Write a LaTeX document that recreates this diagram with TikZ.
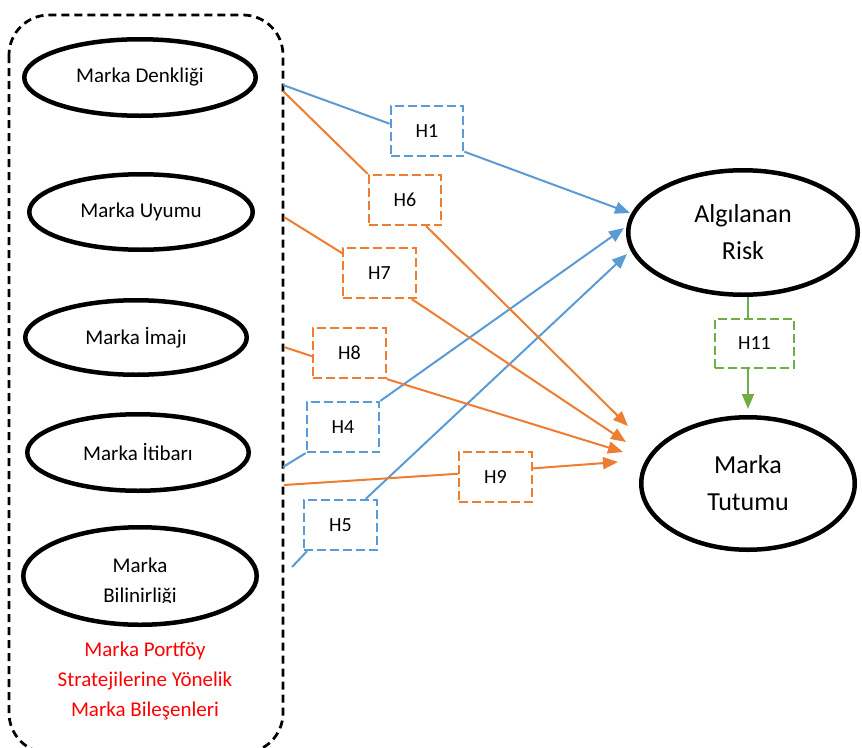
\documentclass[tikz,border=0pt]{standalone}
\usepackage{fontspec}
\setmainfont{Carlito}
\usetikzlibrary{arrows.meta,shapes.geometric}
\definecolor{hblue}{HTML}{5B9BD5}
\definecolor{horange}{HTML}{ED7D31}
\definecolor{hgreen}{HTML}{70AD47}
\definecolor{hred}{HTML}{FF0000}

\begin{document}
\begin{tikzpicture}[x=1pt,y=-1pt,
  construct/.style={draw=black, line width=4.5pt, ellipse, inner sep=0pt,
    font=\fontsize{21}{30}\selectfont, align=center},
  outcome/.style={construct, font=\fontsize{26}{37}\selectfont},
  hyp/.style={draw, fill=white, dash pattern=on 9pt off 4pt, line width=2.2pt,
    minimum width=72.5pt, minimum height=50pt, inner sep=0pt,
    font=\fontsize{20}{24}\selectfont},
  link/.style={line width=2pt},
  tip/.style={-{Triangle[length=15pt,width=12pt]}},
  frame/.style={draw=black, line width=2.75pt, dash pattern=on 8pt off 5pt,
    rounded corners=40pt}
]
\useasboundingbox (0,0) rectangle (862,747);

% dashed frame around the brand components
\draw[frame] (9,15) rectangle (283,753);

% brand component constructs
\node[construct, minimum width=231.5pt, minimum height=76.5pt] (denk) at (140,77.5) {Marka Denkliği};
\node[construct, minimum width=223.5pt, minimum height=75.5pt] (uyum) at (141,212) {Marka Uyumu};
\node[construct, minimum width=221.5pt, minimum height=74.5pt] (imaj) at (136,337.5) {Marka İmajı};
\node[construct, minimum width=221.5pt, minimum height=76.5pt] (itib) at (138,452.5) {Marka İtibarı};
\node[construct, minimum width=233.5pt, minimum height=97.5pt] (bil) at (140,576) {};
\begin{scope}
  \clip (0,0) rectangle (862,602);
  \node[font=\fontsize{21}{30}\selectfont, align=center, inner sep=0pt] (biltext) at (140,582) {Marka\\Bilinirliği};
\end{scope}

% group caption
\node[font=\fontsize{21}{30}\selectfont, align=center, text=hred, inner sep=0pt] (caption) at (145,681)
  {Marka Portföy\\Stratejilerine Yönelik\\Marka Bileşenleri};

% outcome constructs
\node[outcome, minimum width=229.5pt, minimum height=124.5pt] (risk) at (743,232.5) {Algılanan\\Risk};
\node[outcome, minimum width=213.5pt, minimum height=132.5pt] (tut) at (748,483.5) {Marka\\Tutumu};

% hypothesis boxes
\node[hyp, draw=hblue] (h1) at (427,131) {H1};
\node[hyp, draw=horange] (h6) at (405,200) {H6};
\node[hyp, draw=horange] (h7) at (379.5,273) {H7};
\node[hyp, draw=horange] (h8) at (349.5,353) {H8};
\node[hyp, draw=hblue] (h4) at (343,427) {H4};
\node[hyp, draw=horange] (h9) at (495.5,477) {H9};
\node[hyp, draw=hblue] (h5) at (340.5,525) {H5};
\node[hyp, draw=hgreen, minimum width=79pt, minimum height=49pt] (h11) at (754.5,343.5) {H11};

% connector ends on the frame edge
\coordinate (s1) at (283,85);
\coordinate (s6) at (283,91);
\coordinate (s7) at (284,217);
\coordinate (s8) at (284,347);
\coordinate (s4) at (283,467);
\coordinate (s9) at (284,485);
\coordinate (s5) at (292,567);

% arrow tips near the outcome constructs
\coordinate (t1) at (630,213);
\coordinate (t4) at (624,228);
\coordinate (t5) at (627,254);
\coordinate (t6) at (628,426);
\coordinate (t7) at (626,442);
\coordinate (t8) at (623,452);
\coordinate (t9) at (618,462);

% paths to perceived risk
\draw[link, hblue] (s1) -- (h1.169);
\draw[link, hblue, tip] (h1.-29) -- (t1);
\draw[link, hblue] (s4) -- (h4.south west);
\draw[link, hblue, tip] (h4.north east) -- (t4);
\draw[link, hblue] (s5) -- (h5.218);
\draw[link, hblue, tip] (h5.46) -- (t5);

% paths to brand attitude
\draw[link, horange] (s6) -- (h6.north west);
\draw[link, horange, tip] (h6.-51) -- (t6);
\draw[link, horange] (s7) -- (h7.152);
\draw[link, horange, tip] (h7.-39) -- (t7);
\draw[link, horange] (s8) -- (h8.185);
\draw[link, horange, tip] (h8.south east) -- (t8);
\draw[link, horange] (s9) -- (h9.175);
\draw[link, horange, tip] (h9.13) -- (t9);

% perceived risk to brand attitude
\draw[link, hgreen] (risk.south -| tut.north) -- (h11.north -| tut.north);
\draw[link, hgreen, tip, shorten >=6pt] (h11.south -| tut.north) -- (tut.north);
\end{tikzpicture}
\end{document}
